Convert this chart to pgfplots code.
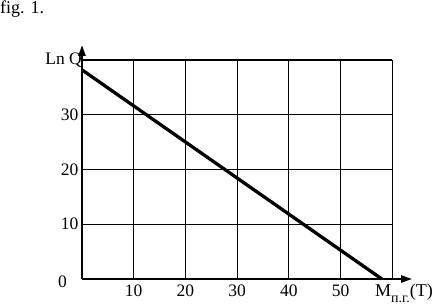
\documentclass[border=0pt]{standalone}
\usepackage{pgfplots}
\pgfplotsset{compat=1.18}
\usepackage{fontspec}
\setmainfont{Liberation Serif}
\usetikzlibrary{arrows.meta}
\begin{document}
\begin{tikzpicture}
\useasboundingbox (-82pt,-25pt) rectangle (361pt,279pt);
\begin{axis}[
  at={(0pt,0pt)}, anchor=origin,
  x=5.17pt, y=5.475pt,
  xmin=0, xmax=60, ymin=0, ymax=40,
  axis lines=left,
  x axis line style={line width=2.2pt, -{Triangle[length=11pt,width=7pt]}, shorten >=-20pt},
  y axis line style={line width=2.2pt, -{Triangle[length=11pt,width=7pt]}, shorten >=-15pt},
  xtick={10,20,30,40,50,60},
  xticklabels={10,20,30,40,50,{}},
  ytick={0,10,20,30,40},
  yticklabels={{},10,20,30,{}},
  major tick length=0pt,
  grid=major,
  grid style={black, line width=1.1pt},
  tick label style={font=\fontsize{17.5}{20}\selectfont},
  xticklabel style={yshift=-2pt},
  /pgf/number format/assume math mode=true,
  clip=false,
]
\addplot[black, line width=3.3pt] coordinates {(0,38.2) (58,0)};
\node[anchor=east, inner sep=0pt, font=\fontsize{17.5}{20}\selectfont] at (axis cs:0,40) {Ln Q\hspace{2pt}};
\node[anchor=east, inner sep=0pt, xshift=-15pt, yshift=-3pt, font=\fontsize{17.5}{20}\selectfont] at (axis cs:0,0) {0};
\end{axis}
\node[anchor=base west, inner sep=0pt, font=\fontsize{18}{20}\selectfont] at (-82pt,265pt) {fig. 1.};
\node[anchor=base west, inner sep=0pt, font=\fontsize{18}{20}\selectfont] at (293pt,-17pt) {M\raisebox{-0.35em}{\fontsize{14}{15}\selectfont п.г.}(T)};
\end{tikzpicture}
\end{document}
